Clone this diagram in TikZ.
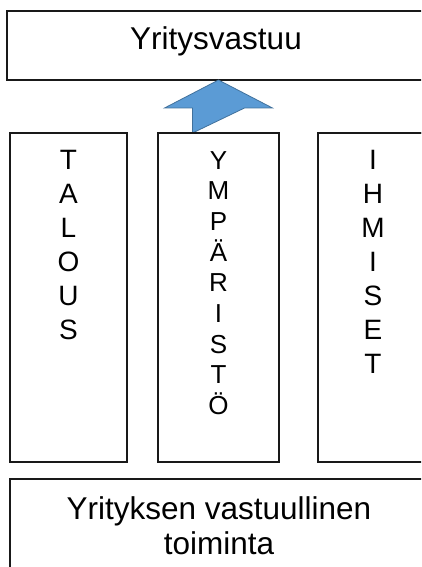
\documentclass[tikz,border=0pt]{standalone}
\usepackage{fontspec}
\setmainfont{Liberation Sans}
\usetikzlibrary{positioning}
\definecolor{nuolisin}{HTML}{5B9BD5}
\definecolor{nuolireuna}{HTML}{41719C}

\begin{document}
\begin{tikzpicture}[x=1pt,y=-1pt,
    laatikko/.style={draw=black!90,line width=2.2pt,outer sep=0pt,inner sep=0pt,anchor=north west},
    kirjaimet/.style={align=center,anchor=north,inner sep=0pt,font=\fontsize{28}{34}\selectfont},
    nuoli/.style={fill=nuolisin,draw=nuolireuna,line width=0.8pt}]
  \useasboundingbox (0,0) rectangle (421,567);
  \clip (0,0) rectangle (421,567);
  % ylin laatikko
  \node[laatikko,minimum width=420pt,minimum height=69pt] (ylin) at (7,11) {};
  \node[anchor=base,inner sep=0pt,font=\fontsize{31.5}{36}\selectfont] (yritysvastuu) at (216,50) {Yritysvastuu};
  % pylvaat
  \foreach \x/\w/\n in {10/117/talous,158/121/ymp,318/115/ihm}
    \node[laatikko,minimum width=\w pt,minimum height=329pt] (\n) at (\x,133) {};
  % nuoli
  \coordinate (karki) at (ylin.south -| ymp.north);
  \draw[nuoli] ([xshift=-26pt]ymp.north) -- ++(0,-25) -- ++(-28,0) -- (karki)
    -- ([xshift=54pt,yshift=25pt]ymp.north) -- ++(-28,0) -- cycle;
  \foreach \n in {talous,ymp,ihm}
    \draw[line width=2.2pt,black!90] (\n.north west) -- (\n.north east);
  \node[kirjaimet] (taloust) at (68.5,150) {T\\A\\L\\O\\U\\S};
  \node[kirjaimet,font=\fontsize{26}{30.7}\selectfont] (ympt) at (218.5,151) {Y\\M\\P\\Ä\\R\\I\\S\\T\\Ö};
  \node[kirjaimet] (ihmt) at (373,150) {I\\H\\M\\I\\S\\E\\T};
  % alin laatikko
  \node[laatikko,minimum width=418pt,minimum height=100pt] (alin) at (10,479) {};
  \node[kirjaimet,font=\fontsize{31.5}{35}\selectfont] (toiminta) at (219,496) {Yrityksen vastuullinen\\toiminta};
\end{tikzpicture}
\end{document}
